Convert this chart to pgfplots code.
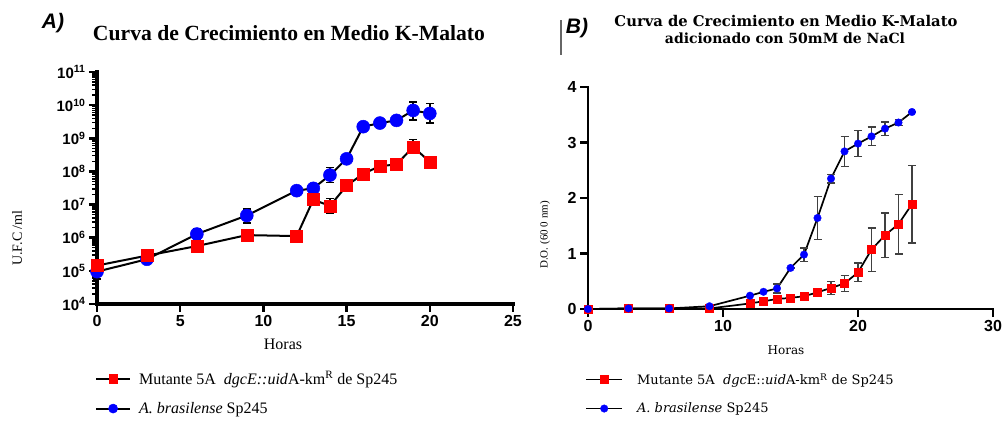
\documentclass[border=0pt]{standalone}
\usepackage{fontspec}
\setmainfont{Liberation Serif}
\newfontfamily\arial{Liberation Sans}
\newfontfamily\dvserif{DejaVu Serif}
\usepackage{pgfplots}
\pgfplotsset{compat=1.18}
\usepackage{pgfplotstable}

\pgfplotstableread{
x y ep em
0 9.5e4 6.7e4 3.9e4
3 2.24e5 0 0
6 1.29e6 6.2e5 4.4e5
9 4.68e6 2.56e6 1.86e6
12 2.63e7 0 0
13 3.09e7 0 0
14 7.76e7 5.4e7 3.1e7
15 2.40e8 0 0
16 2.24e9 0 0
17 2.88e9 0 0
18 3.47e9 0 0
19 6.92e9 5.7e9 3.3e9
20 5.62e9 5.6e9 2.7e9
}\Ablue

\pgfplotstableread{
x y ep em
0 1.45e5 0 0
3 2.88e5 0 0
6 5.6e5 0 0
9 1.2e6 0 0
12 1.12e6 0 0
13 1.41e7 0 0
14 9.1e6 6.0e6 3.7e6
15 3.7e7 0 0
16 8.5e7 0 0
17 1.45e8 0 0
18 1.62e8 0 0
19 5.5e8 3.6e8 2.0e8
20 1.95e8 6.8e7 6.3e7
}\Ared

\pgfplotstableread{
x y e
0 0 0
3 0.01 0
6 0.01 0
9 0.05 0
12 0.24 0
13 0.31 0
14 0.37 0.08
15 0.74 0
16 0.98 0.12
17 1.64 0.39
18 2.35 0.08
19 2.84 0.27
20 2.98 0.23
21 3.11 0.17
22 3.25 0.12
23 3.36 0.05
24 3.55 0
}\Bblue

\pgfplotstableread{
x y e
0 0 0
3 0.01 0
6 0.01 0
9 0.01 0
12 0.10 0
13 0.14 0
14 0.18 0
15 0.20 0
16 0.23 0.07
17 0.30 0
18 0.38 0.12
19 0.46 0.14
20 0.66 0.17
21 1.07 0.39
22 1.33 0.40
23 1.53 0.54
24 1.89 0.70
}\Bred

\begin{document}
\begin{tikzpicture}
\path[use as bounding box] (0pt,0pt) rectangle (1005pt,-421pt);

% ---------- Panel A ----------
\begin{axis}[
  at={(97pt,-304pt)}, anchor=south west,
  scale only axis, width=416pt, height=232pt,
  xmin=0, xmax=25, ymin=1e4, ymax=1e11,
  ymode=log, log basis y=10,
  axis x line*=bottom, axis y line*=left,
  axis line style={draw=none},
  xtick={0,5,10,15,20,25},
  ytick={1e4,1e5,1e6,1e7,1e8,1e9,1e10,1e11},
  minor ytick={2e4,3e4,4e4,5e4,6e4,7e4,8e4,9e4,
    2e5,3e5,4e5,5e5,6e5,7e5,8e5,9e5,
    2e6,3e6,4e6,5e6,6e6,7e6,8e6,9e6,
    2e7,3e7,4e7,5e7,6e7,7e7,8e7,9e7,
    2e8,3e8,4e8,5e8,6e8,7e8,8e8,9e8,
    2e9,3e9,4e9,5e9,6e9,7e9,8e9,9e9,
    2e10,3e10,4e10,5e10,6e10,7e10,8e10,9e10},
  tick align=outside, major tick length=8pt, minor tick length=4.5pt,
  major tick style={black, line width=2.5pt},
  minor tick style={black, line width=1.5pt},
  /pgf/number format/assume math mode=true,
  xticklabel style={font={\fontsize{16}{18}\selectfont\arial\bfseries}},
  yticklabel={10\textsuperscript{\pgfmathparse{int(round(\tick))}\pgfmathresult}},
  yticklabel style={font={\fontsize{15}{17}\selectfont\arial\bfseries}},
  clip=false,
  reverse legend,
  legend style={at={(-0.005,-0.28)}, anchor=north west, draw=none, fill=none,
    inner sep=0pt, row sep=12pt, font={\fontsize{16}{18}\selectfont},
    /tikz/every odd column/.append style={column sep=6pt}},
  legend cell align=left,
  legend image code/.code={\draw[line width=2pt, mark repeat=2,mark phase=2,#1,
      every mark/.append style={scale=0.7}]
      plot coordinates {(0pt,0pt) (17pt,0pt) (34pt,0pt)};},
]
\draw[black, line width=3.5pt, line cap=rect] (axis cs:0,1e4) -- (axis cs:25,1e4);
\draw[black, line width=3.5pt, line cap=rect] (axis cs:0,1e4) -- (axis cs:0,1e11);
\addplot[black, line width=2pt, mark=*, mark size=6.5pt,
  mark options={fill=blue, draw=blue, line width=0.5pt},
  error bars/.cd, y dir=both, y explicit,
  error bar style={black, line width=1.5pt},
  error mark options={rotate=90, black, mark size=4pt, line width=1.5pt}]
  table[x=x, y=y, y error plus=ep, y error minus=em]{\Ablue};
\addlegendentry{\textit{A. brasilense} Sp245}
\addplot[black, line width=2pt, mark=square*, mark size=6pt,
  mark options={fill=red, draw=red, line width=0.5pt},
  error bars/.cd, y dir=both, y explicit,
  error bar style={black, line width=1.5pt},
  error mark options={rotate=90, black, mark size=4pt, line width=1.5pt}]
  table[x=x, y=y, y error plus=ep, y error minus=em]{\Ared};
\addlegendentry{Mutante 5A\ \ \textit{dgcE::uid}A-km\textsuperscript{R} de Sp245}
\end{axis}

% ---------- Panel B ----------
\begin{axis}[
  at={(588pt,-309pt)}, anchor=south west,
  scale only axis, width=405pt, height=222pt,
  xmin=0, xmax=30, ymin=0, ymax=4,
  axis x line*=bottom, axis y line*=left,
  axis line style={draw=none},
  xtick={0,10,20,30}, ytick={0,1,2,3,4},
  tick align=outside, major tick length=8pt,
  major tick style={black, line width=2.2pt},
  /pgf/number format/assume math mode=true,
  ticklabel style={font={\fontsize{16}{18}\selectfont\arial\bfseries}},
  clip=false,
  legend style={at={(-0.007,-0.28)}, anchor=north west, draw=none, fill=none,
    inner sep=0pt, row sep=13pt, font={\fontsize{13}{15}\selectfont\dvserif},
    /tikz/every odd column/.append style={column sep=12pt}},
  legend cell align=left,
  legend image code/.code={\draw[line width=1.7pt, mark repeat=2,mark phase=2,#1]
      plot coordinates {(0pt,0pt) (18pt,0pt) (36pt,0pt)};},
]
\draw[black, line width=2.8pt, line cap=rect] (axis cs:0,0) -- (axis cs:30,0);
\draw[black, line width=2.8pt, line cap=rect] (axis cs:0,0) -- (axis cs:0,4);
\addplot[black, line width=1.7pt, mark=square*, mark size=4pt,
  mark options={fill=red, draw=red, line width=0.3pt},
  error bars/.cd, y dir=both, y explicit,
  error bar style={black!75, line width=1.2pt},
  error mark options={rotate=90, black!75, mark size=4pt, line width=1.2pt}]
  table[x=x, y=y, y error=e]{\Bred};
\addlegendentry{Mutante 5A\ \ \textit{dgc}E::\textit{uid}A-km\textsuperscript{R} de Sp245}
\addplot[black, line width=1.7pt, mark=*, mark size=3.8pt,
  mark options={fill=blue, draw=blue, line width=0.3pt},
  error bars/.cd, y dir=both, y explicit,
  error bar style={black!75, line width=1.2pt},
  error mark options={rotate=90, black!75, mark size=4pt, line width=1.2pt}]
  table[x=x, y=y, y error=e]{\Bblue};
\addlegendentry{\textit{A. brasilense} Sp245}
\end{axis}

% ---------- Texts ----------
\node[font={\fontsize{21}{23}\selectfont\arial\bfseries\itshape}] at (53pt,-23pt) {A)};
\node at (289pt,-33pt) {\resizebox{392pt}{!}{\fontsize{20}{22}\selectfont\bfseries Curva de Crecimiento en Medio K-Malato}};
\node[font={\fontsize{14}{16}\selectfont}, rotate=90] at (17pt,-238pt) {U.F.C /ml};
\node[font={\fontsize{16}{18}\selectfont}] at (283pt,-344pt) {Horas};

\draw[black!60, line width=1.2pt] (561pt,-20pt) -- (561pt,-55pt);
\node[font={\fontsize{21}{23}\selectfont\arial\bfseries\itshape}] at (577pt,-28pt) {B)};
\node at (786pt,-21pt) {\resizebox{343pt}{!}{\fontsize{14}{16}\selectfont\dvserif\bfseries Curva de Crecimiento en Medio K-Malato}};
\node at (785pt,-38pt) {\fontsize{14}{16}\selectfont\dvserif\bfseries adicionado con 50mM de NaCl};
\node[font={\fontsize{11}{13}\selectfont}, rotate=90] at (545pt,-235pt) {D.O. (60 0 nm)};
\node[font={\fontsize{12}{14}\selectfont\dvserif}] at (786pt,-350pt) {Horas};
\end{tikzpicture}
\end{document}
